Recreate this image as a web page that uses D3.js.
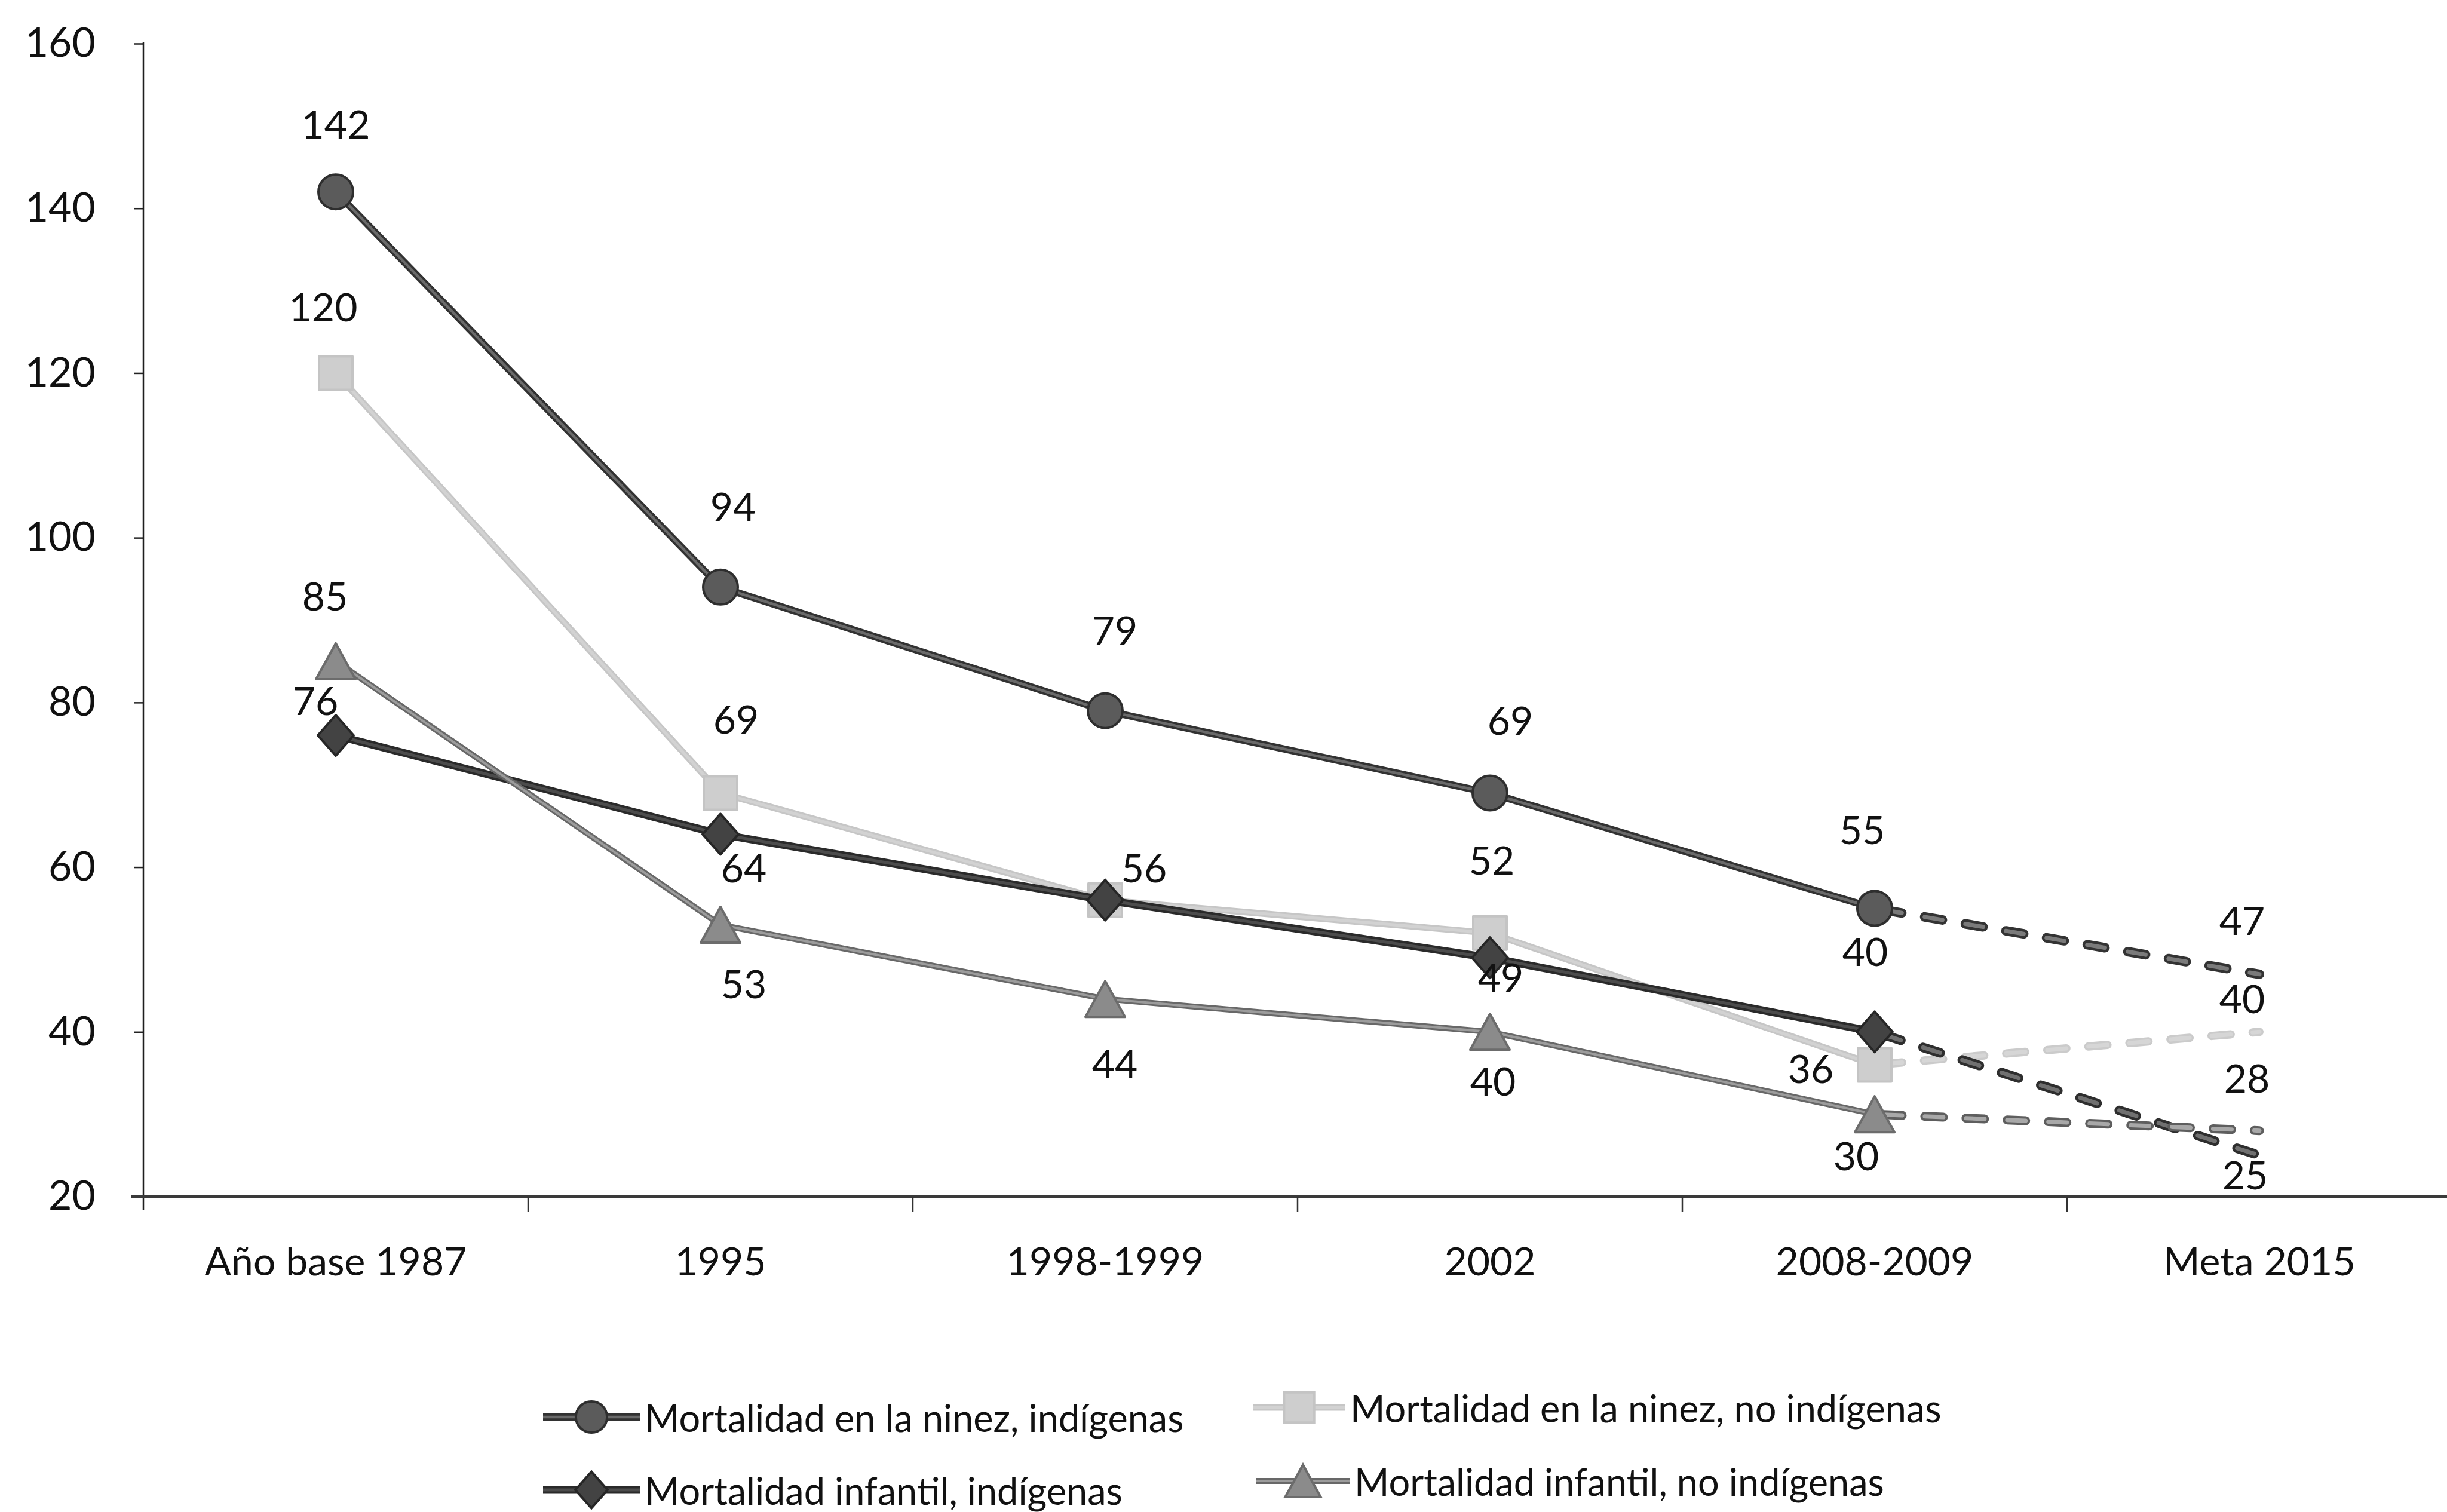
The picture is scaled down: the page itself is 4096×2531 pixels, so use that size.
<!DOCTYPE html>
<html>
<head>
<meta charset="utf-8">
<script src="https://cdn.jsdelivr.net/npm/d3@7"></script>
<style>
  html, body { margin: 0; padding: 0; background: #ffffff; }
  svg { display: block; }
  text { font-family: Lato, "Open Sans", "DejaVu Sans", sans-serif; fill: #111; }
</style>
</head>
<body>
<svg id="chart" width="4096" height="2531"></svg>
<script>
// ---- data ----
const categories = ["Año base 1987", "1995", "1998-1999", "2002", "2008-2009", "Meta 2015"];
const ninezIndigenas      = [142, 94, 79, 69, 55, 47];
const ninezNoIndigenas    = [120, 69, 56, 52, 36, 40];
const infantilIndigenas   = [76, 64, 56, 49, 40, 25];
const infantilNoIndigenas = [85, 53, 44, 40, 30, 28];
const yTickValues = [20, 40, 60, 80, 100, 120, 140, 160];
const seriesNames = [
  "Mortalidad en la ninez, indígenas",
  "Mortalidad en la ninez, no indígenas",
  "Mortalidad infantil, indígenas",
  "Mortalidad infantil, no indígenas"
];
// the last category is the goal, joined with a dashed segment
const observedCount = 5;

// ---- where each value label sits, relative to its point (null = not shown) ----
const labelPlacement = [
  [[0, -115], [21, -136], [16, -136], [34, -123], [-21, -133], [-29, -91]],
  [[-21, -112], [26, -125], null, [3, -123], [-107, 5], [-29, -57]],
  [[-34, -60], [39, 55], [65, -55], [18, 31], [-16, -136], [-24, 31]],
  [[-18, -110], [39, 97], [16, 107], [5, 81], [-31, 68], [-21, -89]]
];

// ---- look of each series ----
const styles = [
  { marker: "circle",   outer: "#323232", inner: "#6a6a6a", ow: 12, iw: 4.5, fill: "#5b5b5b", stroke: "#2e2e2e",
    dOuter: "#333333", dInner: "#7a7a7a", dow: 16, diw: 7 },
  { marker: "square",   outer: "#c6c6c6", inner: "#d2d2d2", ow: 11, iw: 5,   fill: "#cecece", stroke: "#c4c4c4",
    dOuter: "#cbcbcb", dInner: "#d6d6d6", dow: 14, diw: 7 },
  { marker: "diamond",  outer: "#2a2a2a", inner: "#4c4c4c", ow: 13, iw: 5,   fill: "#434343", stroke: "#262626",
    dOuter: "#2e2e2e", dInner: "#707070", dow: 16, diw: 7 },
  { marker: "triangle", outer: "#686868", inner: "#9c9c9c", ow: 10, iw: 4,   fill: "#8b8b8b", stroke: "#6c6c6c",
    dOuter: "#5e5e5e", dInner: "#a8a8a8", dow: 15, diw: 7 }
];
const seriesValues = [ninezIndigenas, ninezNoIndigenas, infantilIndigenas, infantilNoIndigenas];

// ---- layout ----
const svg = d3.select("#chart");
const plotLeft = 240, plotRight = 4104, plotTop = 73, plotBottom = 2003;

const x = d3.scaleBand().domain(categories).range([plotLeft, plotRight]).paddingInner(0).paddingOuter(0);
const y = d3.scaleLinear().domain([20, 160]).range([plotBottom, plotTop]);
const cx = c => x(c) + x.bandwidth() / 2;

// ---- y axis ----
const yAxis = d3.axisLeft(y).tickValues(yTickValues).tickSize(16).tickSizeOuter(0).tickPadding(64);
const gy = svg.append("g").attr("transform", `translate(${plotLeft},0)`).call(yAxis);
gy.select(".domain").remove();
gy.selectAll(".tick line").attr("stroke", "#222").attr("stroke-width", 2.5);
gy.selectAll(".tick text").attr("font-size", 68).attr("fill", "#111")
  .style("font-family", "Lato, 'Open Sans', sans-serif");
svg.append("line")
  .attr("x1", plotLeft).attr("x2", plotLeft)
  .attr("y1", y(160) - 2).attr("y2", y(20) + 22)
  .attr("stroke", "#1e1e1e").attr("stroke-width", 2.5);

// ---- x axis ----
svg.append("line")
  .attr("x1", plotLeft - 20).attr("x2", 4096)
  .attr("y1", y(20)).attr("y2", y(20))
  .attr("stroke", "#3a3a3a").attr("stroke-width", 4);
svg.append("g").selectAll("line")
  .data(categories.slice(1))
  .join("line")
  .attr("x1", d => x(d)).attr("x2", d => x(d))
  .attr("y1", y(20)).attr("y2", y(20) + 26)
  .attr("stroke", "#333").attr("stroke-width", 2.5);
svg.append("g").selectAll("text")
  .data(categories)
  .join("text")
  .attr("x", d => cx(d))
  .attr("y", y(20) + 132)
  .attr("text-anchor", "middle")
  .attr("font-size", 66)
  .text(d => d);

// ---- marker shapes ----
function markerPath(kind, s) {
  const p = d3.path();
  if (kind === "circle") {
    p.arc(0, 0, 29 * s, 0, 2 * Math.PI);
  } else if (kind === "square") {
    const h = 28 * s;
    p.rect(-h, -h, 2 * h, 2 * h);
  } else if (kind === "diamond") {
    const w = 30 * s, h = 34 * s;
    p.moveTo(0, -h); p.lineTo(w, 0); p.lineTo(0, h); p.lineTo(-w, 0); p.closePath();
  } else {
    const w = 33 * s, h = 30 * s;
    p.moveTo(0, -h); p.lineTo(w, h); p.lineTo(-w, h); p.closePath();
  }
  return p.toString();
}

// ---- series ----
const line = d3.line().x(d => cx(d.c)).y(d => y(d.v));

function drawSeries(values, st, g) {
  const pts = values.map((v, i) => ({ c: categories[i], v, i }));
  const solid = pts.slice(0, observedCount);
  const dashed = pts.slice(observedCount - 1);

  // solid part: wide dark stroke under a narrow lighter stroke
  g.append("path").attr("d", line(solid)).attr("fill", "none")
    .attr("stroke", st.outer).attr("stroke-width", st.ow).attr("stroke-linejoin", "round");
  g.append("path").attr("d", line(solid)).attr("fill", "none")
    .attr("stroke", st.inner).attr("stroke-width", st.iw).attr("stroke-linejoin", "round");

  // projected part to the goal: outlined rounded dashes
  const dashGap = 23;
  const dashLen = 46 - st.dow;
  const dashArr = `${dashLen} ${46 + dashGap - dashLen}`;
  g.append("path").attr("d", line(dashed)).attr("fill", "none")
    .attr("stroke", st.dOuter).attr("stroke-width", st.dow)
    .attr("stroke-linecap", "round").attr("stroke-dasharray", dashArr)
    .attr("stroke-dashoffset", -st.dow);
  g.append("path").attr("d", line(dashed)).attr("fill", "none")
    .attr("stroke", st.dInner).attr("stroke-width", st.diw)
    .attr("stroke-linecap", "round").attr("stroke-dasharray", dashArr)
    .attr("stroke-dashoffset", -st.dow);

  g.append("g").selectAll("path")
    .data(solid)
    .join("path")
    .attr("transform", d => `translate(${cx(d.c)},${y(d.v)})`)
    .attr("d", markerPath(st.marker, 1))
    .attr("fill", st.fill).attr("stroke", st.stroke).attr("stroke-width", 4)
    .attr("stroke-linejoin", "round");
}

const gSeries = svg.append("g");
seriesValues.forEach((vals, i) => drawSeries(vals, styles[i], gSeries.append("g")));

// ---- value labels ----
const gLabels = svg.append("g");
seriesValues.forEach((vals, si) => {
  vals.forEach((v, i) => {
    const off = labelPlacement[si][i];
    if (!off) return;
    gLabels.append("text")
      .attr("x", cx(categories[i]) + off[0])
      .attr("y", y(v) + off[1])
      .attr("text-anchor", "middle")
      .attr("dominant-baseline", "central")
      .attr("font-size", 66)
      .text(v);
  });
});

// ---- legend ----
const legendItems = [
  { x: 909,  y: 2372, len: 162 },
  { x: 2097, y: 2356, len: 155 },
  { x: 909,  y: 2494, len: 162 },
  { x: 2103, y: 2479, len: 156 }
];
const gLegend = svg.append("g");
legendItems.forEach((it, i) => {
  const st = styles[i];
  const g = gLegend.append("g");
  g.append("line").attr("x1", it.x).attr("x2", it.x + it.len).attr("y1", it.y).attr("y2", it.y)
    .attr("stroke", st.outer).attr("stroke-width", st.ow);
  g.append("line").attr("x1", it.x).attr("x2", it.x + it.len).attr("y1", it.y).attr("y2", it.y)
    .attr("stroke", st.inner).attr("stroke-width", st.iw);
  g.append("path")
    .attr("transform", `translate(${it.x + it.len / 2},${it.y})`)
    .attr("d", markerPath(st.marker, 0.9))
    .attr("fill", st.fill).attr("stroke", st.stroke).attr("stroke-width", 4);
  g.append("text")
    .attr("x", it.x + it.len + 8)
    .attr("y", it.y)
    .attr("dominant-baseline", "central")
    .attr("font-size", 63)
    .text(seriesNames[i]);
});
</script>
</body>
</html>
